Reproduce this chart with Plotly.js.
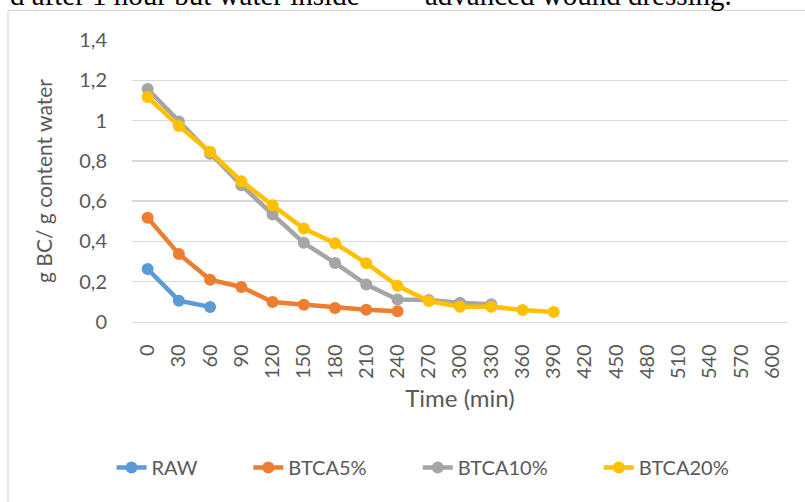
<!DOCTYPE html>
<html>
<head>
<meta charset="utf-8">
<script src="https://cdn.plot.ly/plotly-3.0.1.min.js"></script>
<style>
html,body{margin:0;padding:0;background:#fff;}
#chart{width:805px;height:502px;}
</style>
</head>
<body>
<div id="chart"></div>
<script>
// Categories (time, min)
const timeLabels = ["0","30","60","90","120","150","180","210","240","270","300","330","360","390","420","450","480","510","540","570","600"];

// Series values (g BC / g content water)
const rawVals     = [0.263, 0.106, 0.075];
const btca5Vals   = [0.517, 0.338, 0.210, 0.174, 0.099, 0.086, 0.070, 0.061, 0.053];
const btca10Vals  = [1.157, 0.995, 0.835, 0.679, 0.534, 0.393, 0.293, 0.186, 0.112, 0.109, 0.096, 0.088];
const btca20Vals  = [1.117, 0.973, 0.845, 0.699, 0.580, 0.464, 0.391, 0.292, 0.180, 0.104, 0.076, 0.076, 0.060, 0.050];

const seriesNames = ["RAW", "BTCA5%", "BTCA10%", "BTCA20%"];
const seriesColors = ["#5B9BD5", "#ED7D31", "#A5A5A5", "#FFC000"];
const seriesVals = [rawVals, btca5Vals, btca10Vals, btca20Vals];

const textFont = "Lato, 'Open Sans', sans-serif";
const grey = "#595959";
const pad = "\u00A0".repeat(9);

const traces = seriesVals.map((vals, i) => ({
  type: "scatter",
  mode: "lines+markers",
  name: seriesNames[i] + (i < seriesNames.length - 1 ? pad : ""),
  x: timeLabels.slice(0, vals.length),
  y: vals,
  line: {color: seriesColors[i], width: 4.5},
  marker: {color: seriesColors[i], size: 12},
  hoverinfo: "x+y+name"
}));

const layout = {
  width: 805,
  height: 502,
  margin: {l: 132.4, r: 17.4, t: 40, b: 180.3, pad: 0},
  paper_bgcolor: "#ffffff",
  plot_bgcolor: "#ffffff",
  separators: ",.",
  showlegend: true,
  font: {family: textFont, color: grey, size: 20},
  xaxis: {
    type: "category",
    categoryorder: "array",
    categoryarray: timeLabels,
    range: [-0.5, timeLabels.length - 0.5],
    tickangle: -90,
    ticks: "outside",
    ticklen: 13,
    tickcolor: "rgba(0,0,0,0)",
    showgrid: false,
    showline: true,
    linecolor: "#D9D9D9",
    linewidth: 1.3,
    zeroline: false,
    tickfont: {family: textFont, size: 20, color: grey},
    title: {text: "Time (min)", font: {family: textFont, size: 24, color: grey}, standoff: 12},
    automargin: false,
    fixedrange: true
  },
  yaxis: {
    range: [0, 1.4],
    dtick: 0.2,
    tick0: 0,
    showgrid: true,
    gridcolor: "#D9D9D9",
    gridwidth: 1.3,
    zeroline: false,
    showline: false,
    ticks: "outside",
    ticklen: 20,
    tickcolor: "rgba(0,0,0,0)",
    tickfont: {family: textFont, size: 20, color: grey},
    title: {text: "g BC/ g content water", font: {family: textFont, size: 21, color: grey}, standoff: 20},
    automargin: false,
    fixedrange: true
  },
  legend: {
    orientation: "h",
    x: (112 - 132.4) / 655.2,
    xanchor: "left",
    y: -0.516,
    yanchor: "middle",
    font: {family: textFont, size: 20, color: grey},
    itemwidth: 30,
    bgcolor: "rgba(0,0,0,0)"
  },
  shapes: [{
    type: "rect",
    xref: "paper", yref: "paper",
    x0: -0.189, x1: 1.06,
    y0: -0.72, y1: 1.1047,
    line: {color: "#D9D9D9", width: 1.2},
    fillcolor: "rgba(0,0,0,0)",
    layer: "below"
  }],
  annotations: [
    {
      xref: "paper", yref: "paper",
      x: (362 - 132.4) / 655.2, xanchor: "right",
      y: 1.096, yanchor: "bottom",
      text: "d after 1 hour but water inside",
      showarrow: false,
      font: {family: "'Liberation Serif', 'Times New Roman', serif", size: 29, color: "#000000"}
    },
    {
      xref: "paper", yref: "paper",
      x: (423 - 132.4) / 655.2, xanchor: "left",
      y: 1.096, yanchor: "bottom",
      text: "advanced wound dressing.",
      showarrow: false,
      font: {family: "'Liberation Serif', 'Times New Roman', serif", size: 29, color: "#000000"}
    }
  ]
};

Plotly.newPlot("chart", traces, layout, {displayModeBar: false, staticPlot: true});
</script>
</body>
</html>
